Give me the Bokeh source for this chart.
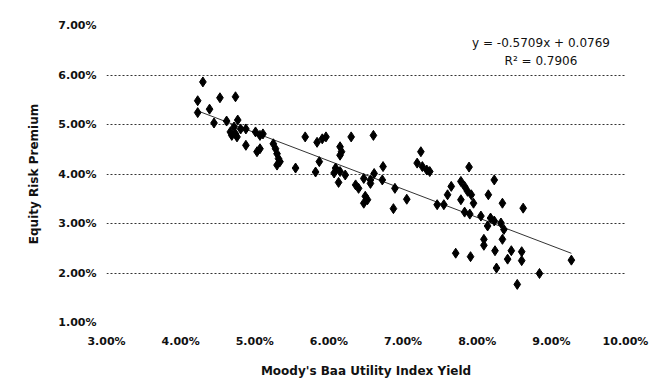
from bokeh.plotting import figure
from bokeh.models import Range1d, PrintfTickFormatter, FixedTicker, ColumnDataSource
from bokeh.core.properties import value
from bokeh.embed import file_html
from bokeh.resources import INLINE

# Moody's Baa Utility Index Yield (%) and Equity Risk Premium (%)
baa_yield = [4.30, 4.23, 4.23, 4.39, 4.53, 4.74, 4.45, 4.62, 4.77, 4.72,
             4.74, 4.76, 4.81, 4.67, 4.69, 4.88, 4.88, 5.01, 5.07, 5.11,
             5.07, 5.03, 5.25, 5.28, 5.30, 5.32, 5.34, 5.30, 5.55, 5.68,
             5.84, 5.91, 5.96, 5.82, 5.87, 6.15, 6.17, 6.15, 6.09, 6.15,
             6.22, 6.07, 6.13, 6.30, 6.60, 6.36, 6.40, 6.47, 6.56, 6.61,
             6.56, 6.73, 6.72, 6.89, 6.49, 6.52, 6.47, 7.05, 6.87, 7.24,
             7.19, 7.26, 7.32, 7.36, 7.89, 8.23, 7.65, 7.78, 7.83, 7.87,
             7.92, 7.60, 8.15, 7.46, 7.55, 7.78, 7.95, 8.34, 8.62, 7.83,
             7.90, 8.05, 8.18, 8.23, 8.32, 8.36, 8.14, 8.09, 8.09, 8.34,
             7.71, 7.91, 8.24, 8.46, 8.41, 8.60, 8.60, 8.26, 8.84, 8.54,
             9.27]
risk_premium = [5.86, 5.48, 5.24, 5.31, 5.54, 5.56, 5.03, 5.07, 5.09, 4.95,
                4.81, 4.75, 4.91, 4.85, 4.78, 4.91, 4.58, 4.85, 4.78, 4.81,
                4.51, 4.45, 4.61, 4.51, 4.41, 4.31, 4.25, 4.18, 4.12, 4.75,
                4.64, 4.71, 4.75, 4.04, 4.25, 4.55, 4.45, 4.38, 4.12, 4.05,
                3.98, 4.02, 3.83, 4.75, 4.78, 3.78, 3.71, 3.91, 3.88, 4.01,
                3.81, 4.15, 3.88, 3.71, 3.55, 3.48, 3.41, 3.49, 3.30, 4.45,
                4.22, 4.15, 4.08, 4.05, 4.14, 3.88, 3.75, 3.85, 3.75, 3.65,
                3.58, 3.58, 3.58, 3.38, 3.38, 3.48, 3.41, 3.41, 3.31, 3.23,
                3.19, 3.15, 3.11, 3.05, 3.01, 2.88, 2.95, 2.68, 2.56, 2.68,
                2.40, 2.33, 2.45, 2.45, 2.28, 2.43, 2.25, 2.10, 1.99, 1.77,
                2.26]

slope = -0.5709
intercept = 0.0769
eq_text = "y = -0.5709x + 0.0769"
r2_text = "R\u00b2 = 0.7906"

x_ticks = [3, 4, 5, 6, 7, 8, 9, 10]
y_ticks = [1, 2, 3, 4, 5, 6, 7]

FONT = "DejaVu Sans"

p = figure(width=650, height=380, output_backend="svg", toolbar_location=None,
           x_range=Range1d(3, 10), y_range=Range1d(1, 7),
           min_border_left=106, min_border_right=25, min_border_top=25,
           min_border_bottom=54)
p.outline_line_color = None
p.background_fill_color = "white"
p.border_fill_color = "white"

# grid
p.xgrid.grid_line_color = None
p.ygrid.ticker = FixedTicker(ticks=[2, 3, 4, 5, 6, 7])
p.ygrid.grid_line_color = "#333333"
p.ygrid.grid_line_dash = "2 2"
p.ygrid.grid_line_width = 1

for ax in (p.xaxis[0], p.yaxis[0]):
    ax.axis_line_color = None
    ax.major_tick_line_color = None
    ax.minor_tick_line_color = None
    ax.major_tick_out = 0
    ax.major_tick_in = 0
    ax.major_label_text_font = FONT
    ax.major_label_text_font_style = "bold"
    ax.major_label_text_font_size = "11px"
    ax.major_label_text_color = "#111111"
    ax.axis_label_text_font = FONT
    ax.axis_label_text_font_style = "bold"
    ax.axis_label_text_font_size = "12px"
    ax.axis_label_text_color = "#111111"
    ax.formatter = PrintfTickFormatter(format="%.2f%%")

p.xaxis.ticker = FixedTicker(ticks=x_ticks)
p.yaxis.ticker = FixedTicker(ticks=y_ticks)
p.xaxis.major_label_standoff = 12
p.yaxis.major_label_standoff = 10
p.xaxis.axis_label = "Moody's Baa Utility Index Yield"
p.yaxis.axis_label = "Equity Risk Premium"
p.xaxis.axis_label_standoff = 13
p.yaxis.axis_label_standoff = 14

# trend line across data range
x0, x1 = min(baa_yield), max(baa_yield)
tx = [x0, x1]
ty = [(slope * (v / 100) + intercept) * 100 for v in tx]
p.line(tx, ty, line_color="#333333", line_width=1)

src = ColumnDataSource(dict(x=baa_yield, y=risk_premium))
p.scatter("x", "y", source=src, marker="diamond", size=10,
          fill_color="#000000", line_color="#000000", line_width=1)

p.text(x=[8.86, 8.86], y=[6.64, 6.28], text=[eq_text, r2_text],
       text_font=value(FONT), text_font_size="12px", text_align="center",
       text_baseline="middle", text_color="#111111")

open("out.html", "w").write(file_html(p, INLINE))
